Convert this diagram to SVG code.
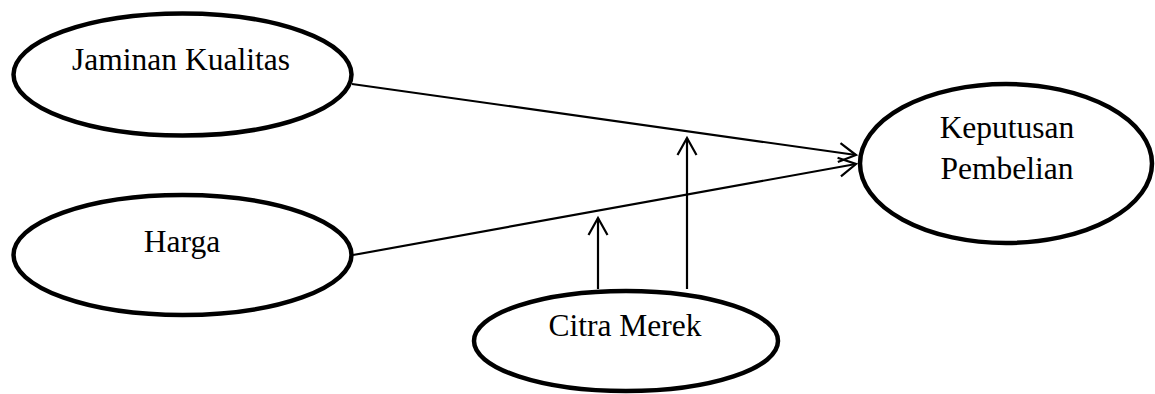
<svg xmlns="http://www.w3.org/2000/svg" width="1155" height="394" viewBox="0 0 1155 394">
  <style>
    .node { fill: #ffffff; stroke: #000000; stroke-width: 4.5; }
    .label { font-family: "Liberation Serif", "Times New Roman", serif; font-size: 31.5px; fill: #000000; text-anchor: middle; }
    .edge { fill: none; stroke: #000000; stroke-width: 2.2; }
  </style>
  <defs>
    <marker id="open-arrow" markerUnits="userSpaceOnUse" markerWidth="24" markerHeight="24" viewBox="-20 -12 24 24" refX="0" refY="0" orient="auto" overflow="visible">
      <path d="M -17 -9.5 L 0 0 L -17 9.5" fill="none" stroke="#000000" stroke-width="2.2"/>
    </marker>
  </defs>

  <g id="connectors">
    <line class="edge" x1="352" y1="84" x2="856" y2="155" marker-end="url(#open-arrow)"/>
    <line class="edge" x1="353" y1="255" x2="856" y2="164" marker-end="url(#open-arrow)"/>
    <line class="edge" x1="598" y1="289" x2="598" y2="218" marker-end="url(#open-arrow)"/>
    <line class="edge" x1="687" y1="289" x2="687" y2="138" marker-end="url(#open-arrow)"/>
  </g>

  <g id="jaminan-kualitas">
    <ellipse class="node" cx="182.5" cy="74.5" rx="169" ry="61"/>
    <text class="label" x="181" y="70">Jaminan Kualitas</text>
  </g>

  <g id="harga">
    <ellipse class="node" cx="182.5" cy="255" rx="169" ry="60"/>
    <text class="label" x="182" y="252">Harga</text>
  </g>

  <g id="keputusan-pembelian">
    <ellipse class="node" cx="1006" cy="163.5" rx="146" ry="79.5"/>
    <text class="label" x="1007" y="138">Keputusan</text>
    <text class="label" x="1007" y="179">Pembelian</text>
  </g>

  <g id="citra-merek">
    <ellipse class="node" cx="626" cy="341" rx="152" ry="50"/>
    <text class="label" x="625" y="336">Citra Merek</text>
  </g>
</svg>
